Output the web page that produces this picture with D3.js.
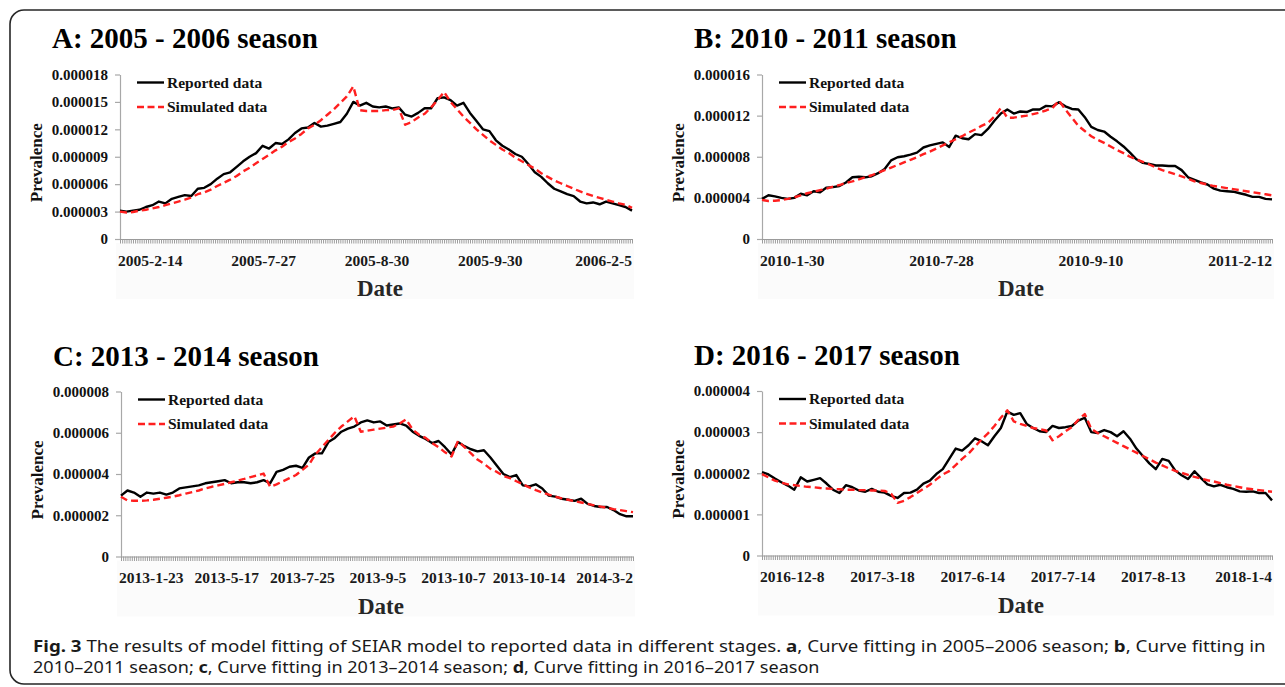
<!DOCTYPE html>
<html>
<head>
<meta charset="utf-8">
<script src="https://cdn.jsdelivr.net/npm/d3@7"></script>
<style>
  body { margin: 0; background: #fff; }
  svg { display: block; }
</style>
</head>
<body>
<svg id="fig" width="1285" height="687"></svg>
<script>
// Prevalence values are stored in millionths (x 1e-6)
const UNIT = 1e-6;

// A: 2005 - 2006 season
const reportedA = [3.1,3.0,3.1,3.2,3.5,3.7,4.1,3.9,4.4,4.6,
  4.8,4.7,5.5,5.6,6.0,6.6,7.1,7.3,7.9,8.5,
  9.0,9.4,10.2,9.9,10.5,10.4,10.9,11.6,12.1,12.2,
  12.7,12.3,12.4,12.6,12.8,13.7,15.0,14.6,14.9,14.5,
  14.4,14.5,14.3,14.4,13.6,13.4,13.8,14.3,14.3,15.4,
  15.5,15.2,14.6,14.9,13.8,12.9,12.0,11.8,10.8,10.2,
  9.8,9.3,9.0,8.2,7.3,6.8,6.1,5.5,5.2,4.9,
  4.7,4.1,3.9,4.0,3.8,4.1,3.9,3.7,3.5,3.1];
const simulatedA = [3.0,2.9,2.95,3.1,3.2,3.35,3.5,3.7,3.9,4.1,
  4.3,4.55,4.9,5.1,5.4,5.8,6.15,6.5,6.9,7.4,
  7.8,8.3,8.75,9.2,9.7,10.1,10.6,11.0,11.5,12.1,
  12.5,13.0,13.6,14.2,14.9,15.6,16.7,14.1,14.0,14.0,
  14.0,14.1,14.1,14.3,12.5,12.8,13.3,13.7,14.4,15.2,
  16.1,15.0,14.2,13.4,12.7,12.0,11.4,10.8,10.3,9.8,
  9.4,8.9,8.5,8.1,7.7,7.2,6.8,6.4,6.1,5.8,
  5.5,5.2,4.95,4.7,4.5,4.3,4.1,3.9,3.75,3.4];
const datesA = ["2005-2-14", "2005-7-27", "2005-8-30", "2005-9-30", "2006-2-5"];
const yTicksA = [0, 3, 6, 9, 12, 15, 18];

// B: 2010 - 2011 season
const reportedB = [3.9,4.25,4.15,4.0,3.9,4.0,4.4,4.25,4.65,4.55,
  5.0,5.05,5.15,5.5,6.0,6.05,6.0,6.1,6.4,6.8,
  7.65,7.95,8.05,8.2,8.4,8.9,9.1,9.25,9.4,8.95,
  10.05,9.8,9.7,10.2,10.1,10.7,11.5,12.2,12.6,12.2,
  12.4,12.35,12.6,12.6,12.95,12.9,13.3,12.9,12.65,12.6,
  11.85,10.9,10.6,10.45,9.95,9.5,9.0,8.4,7.75,7.4,
  7.3,7.15,7.15,7.1,7.1,6.7,6.0,5.75,5.5,5.3,
  4.9,4.7,4.65,4.6,4.45,4.3,4.1,4.1,3.9,3.85];
const simulatedB = [3.8,3.7,3.72,3.78,3.9,4.05,4.25,4.45,4.6,4.75,
  4.9,5.1,5.25,5.45,5.6,5.8,6.0,6.2,6.45,6.7,
  6.95,7.2,7.45,7.7,7.95,8.25,8.5,8.8,9.1,9.4,
  9.7,10.0,10.35,10.65,11.0,11.3,11.9,12.75,11.8,11.8,
  11.9,12.0,12.15,12.3,12.5,12.75,13.45,12.6,11.8,11.0,
  10.5,10.0,9.65,9.35,9.0,8.65,8.35,8.0,7.75,7.5,
  7.25,6.95,6.7,6.5,6.3,6.1,5.85,5.6,5.45,5.3,
  5.15,5.05,4.95,4.85,4.75,4.65,4.55,4.45,4.35,4.25];
const datesB = ["2010-1-30", "2010-7-28", "2010-9-10", "2011-2-12"];
const yTicksB = [0, 4, 8, 12, 16];

// C: 2013 - 2014 season
const reportedC = [2.95,3.2,3.1,2.9,3.1,3.05,3.1,3.0,3.1,3.3,
  3.35,3.4,3.45,3.55,3.6,3.65,3.7,3.55,3.6,3.6,
  3.55,3.6,3.7,3.55,4.1,4.2,4.35,4.4,4.3,4.8,
  5.0,5.0,5.55,5.75,6.05,6.2,6.3,6.5,6.6,6.5,
  6.55,6.35,6.4,6.45,6.35,6.05,5.85,5.7,5.5,5.6,
  5.3,4.95,5.55,5.35,5.2,5.1,5.15,4.8,4.4,4.0,
  3.85,3.95,3.45,3.4,3.5,3.3,2.95,2.9,2.8,2.75,
  2.7,2.8,2.55,2.45,2.4,2.4,2.25,2.05,1.95,1.95];
const simulatedC = [2.9,2.72,2.7,2.7,2.72,2.75,2.8,2.85,2.9,2.97,
  3.05,3.12,3.2,3.3,3.38,3.45,3.52,3.6,3.68,3.76,
  3.85,3.93,4.02,3.38,3.5,3.65,3.8,3.95,4.2,4.45,
  4.95,5.3,5.65,6.0,6.3,6.55,6.8,6.05,6.1,6.15,
  6.2,6.25,6.3,6.45,6.65,6.15,5.9,5.75,5.5,5.3,
  5.05,4.85,5.6,5.3,5.0,4.7,4.5,4.25,4.1,3.9,
  3.8,3.65,3.5,3.35,3.22,3.1,3.0,2.9,2.82,2.75,
  2.68,2.62,2.55,2.48,2.42,2.36,2.3,2.25,2.2,2.15];
const datesC = ["2013-1-23", "2013-5-17", "2013-7-25", "2013-9-5", "2013-10-7", "2013-10-14", "2014-3-2"];
const yTicksC = [0, 2, 4, 6, 8];

// D: 2016 - 2017 season
const reportedD = [2.03,1.97,1.87,1.78,1.7,1.6,1.9,1.8,1.84,1.88,
  1.75,1.6,1.52,1.71,1.66,1.58,1.55,1.62,1.55,1.53,
  1.45,1.4,1.52,1.53,1.6,1.75,1.82,1.98,2.1,2.35,
  2.6,2.55,2.68,2.85,2.78,2.68,2.9,3.1,3.5,3.42,
  3.46,3.2,3.1,3.02,3.0,3.15,3.1,3.12,3.15,3.28,
  3.35,3.0,2.98,3.05,3.0,2.9,3.02,2.84,2.6,2.42,
  2.24,2.1,2.35,2.3,2.07,1.95,1.86,2.05,1.88,1.73,
  1.68,1.72,1.66,1.62,1.56,1.55,1.56,1.52,1.52,1.34];
const simulatedD = [1.98,1.9,1.82,1.77,1.73,1.71,1.69,1.67,1.66,1.64,
  1.63,1.62,1.61,1.6,1.6,1.59,1.59,1.58,1.58,1.57,
  1.5,1.28,1.33,1.42,1.52,1.62,1.72,1.85,1.97,2.05,
  2.2,2.35,2.48,2.65,2.82,2.97,3.15,3.35,3.53,3.26,
  3.2,3.15,3.1,3.07,3.04,2.8,2.9,3.02,3.12,3.3,
  3.44,3.08,2.98,2.9,2.82,2.74,2.66,2.58,2.5,2.42,
  2.34,2.26,2.19,2.12,2.06,2.01,1.96,1.91,1.87,1.83,
  1.8,1.76,1.72,1.69,1.66,1.63,1.61,1.59,1.57,1.55];
const datesD = ["2016-12-8", "2017-3-18", "2017-6-14", "2017-7-14", "2017-8-13", "2018-1-4"];
const yTicksD = [0, 1, 2, 3, 4];

const titles = ["A: 2005 - 2006 season", "B: 2010 - 2011 season", "C: 2013 - 2014 season", "D: 2016 - 2017 season"];
const legendLabels = ["Reported data", "Simulated data"];
const axisTitleX = "Date";
const axisTitleY = "Prevalence";

const panels = [
  { title: titles[0], reported: reportedA, simulated: simulatedA, dates: datesA, yTicks: yTicksA,
    left: 120, right: 632, top: 74.5, bottom: 239, titleY: 47.5 },
  { title: titles[1], reported: reportedB, simulated: simulatedB, dates: datesB, yTicks: yTicksB,
    left: 762, right: 1272, top: 74.5, bottom: 239, titleY: 48 },
  { title: titles[2], reported: reportedC, simulated: simulatedC, dates: datesC, yTicks: yTicksC,
    left: 121, right: 633, top: 391.5, bottom: 556.5, titleY: 366 },
  { title: titles[3], reported: reportedD, simulated: simulatedD, dates: datesD, yTicks: yTicksD,
    left: 762, right: 1272, top: 391, bottom: 555.5, titleY: 365 }
];

const SERIF = "'Liberation Serif', 'Times New Roman', Times, serif";
const RED = "#ff1f1f";
const svg = d3.select("#fig");

// outer frame with rounded corners (right edge runs off the page)
svg.append("rect")
  .attr("x", 10).attr("y", 10)
  .attr("width", 1300).attr("height", 674)
  .attr("rx", 14).attr("ry", 14)
  .attr("fill", "none").attr("stroke", "#262626").attr("stroke-width", 1.6);

const fmtTick = v => v === 0 ? "0" : (v * UNIT).toFixed(6);

panels.forEach(p => {
  const g = svg.append("g");
  const n = p.reported.length;
  const x = d3.scaleLinear().domain([0, n - 1]).range([p.left, p.right]);
  const y = d3.scaleLinear().domain([0, d3.max(p.yTicks)]).range([p.bottom, p.top]);

  // faint backdrop behind the date labels
  g.append("rect")
    .attr("x", p.left - 4).attr("y", p.bottom + 4)
    .attr("width", p.right - p.left + 6).attr("height", 56)
    .attr("fill", "#fbfbfb");

  // title
  g.append("text")
    .attr("x", p.left - 68).attr("y", p.titleY)
    .attr("font-family", SERIF).attr("font-weight", "bold").attr("font-size", 29)
    .attr("fill", "#000")
    .text(p.title);

  // y axis
  const yAxis = d3.axisLeft(y).tickValues(p.yTicks).tickSize(5).tickSizeOuter(0)
    .tickPadding(7).tickFormat(fmtTick);
  const ya = g.append("g").attr("transform", `translate(${p.left},0)`).call(yAxis);
  ya.attr("font-family", SERIF).attr("font-weight", "bold").attr("font-size", 15).attr("color", "#111");
  ya.select(".domain").attr("stroke", "#a8a8a8").attr("stroke-width", 1.2);
  ya.selectAll(".tick line").attr("stroke", "#a8a8a8").attr("stroke-width", 1.2);

  // x axis: dense gray category ticks
  const xAxis = d3.axisBottom(x).tickValues(d3.range(0, n - 1 + 1e-9, 1 / 3))
    .tickSize(4.5).tickSizeOuter(0).tickFormat("");
  const xa = g.append("g").attr("transform", `translate(0,${p.bottom})`).call(xAxis);
  xa.select(".domain").attr("stroke", "#9a9a9a").attr("stroke-width", 1.2);
  xa.selectAll(".tick line").attr("stroke", "#9c9c9c").attr("stroke-width", 1);

  // date labels: first flush with the axis start, last flush with the axis end
  const labels = g.append("g")
    .attr("font-family", SERIF).attr("font-weight", "bold").attr("font-size", 15.5)
    .attr("fill", "#1a1a1a").attr("text-anchor", "middle");
  const lt = labels.selectAll("text").data(p.dates).join("text")
    .attr("y", p.bottom + 26.5).text(d => d);
  const w0 = lt.nodes()[0].getComputedTextLength();
  const wl = lt.nodes()[p.dates.length - 1].getComputedTextLength();
  const xLab = d3.scalePoint().domain(p.dates).range([p.left - 2 + w0 / 2, p.right - wl / 2]);
  lt.attr("x", d => xLab(d));

  // axis titles
  g.append("text")
    .attr("x", (p.left + p.right) / 2 + 4).attr("y", p.bottom + 57)
    .attr("text-anchor", "middle")
    .attr("font-family", SERIF).attr("font-weight", "bold").attr("font-size", 23)
    .attr("fill", "#262626")
    .text(axisTitleX);
  g.append("text")
    .attr("transform", `translate(${p.left - 78},${(p.top + p.bottom) / 2 + 6}) rotate(-90)`)
    .attr("text-anchor", "middle")
    .attr("font-family", SERIF).attr("font-weight", "bold").attr("font-size", 17)
    .attr("fill", "#111")
    .text(axisTitleY);

  // series
  const line = d3.line().x((d, i) => x(i)).y(d => y(d));
  g.append("path").datum(p.reported)
    .attr("d", line).attr("fill", "none")
    .attr("stroke", "#000").attr("stroke-width", 2.4).attr("stroke-linejoin", "round");
  g.append("path").datum(p.simulated)
    .attr("d", line).attr("fill", "none")
    .attr("stroke", RED).attr("stroke-width", 2.4)
    .attr("stroke-dasharray", "7,4").attr("stroke-linejoin", "round");

  // legend
  const lg = g.append("g");
  const rows = [
    { label: legendLabels[0], color: "#000", dash: null },
    { label: legendLabels[1], color: RED, dash: "7,3.5" }
  ];
  rows.forEach((r, k) => {
    const ly = p.top + 8 + k * 24.5;
    lg.append("line")
      .attr("x1", p.left + 17).attr("x2", p.left + 44)
      .attr("y1", ly).attr("y2", ly)
      .attr("stroke", r.color).attr("stroke-width", 2.4)
      .attr("stroke-dasharray", r.dash);
    lg.append("text")
      .attr("x", p.left + 47).attr("y", ly + 5)
      .attr("font-family", SERIF).attr("font-weight", "bold").attr("font-size", 15.5)
      .attr("fill", "#111")
      .text(r.label);
  });
});

// figure caption
const SANS = "'Noto Sans', 'Open Sans', Arial, sans-serif";
const captionLines = [
  [["Fig. 3", true], [" The results of model fitting of SEIAR model to reported data in different stages. ", false],
   ["a", true], [", Curve fitting in 2005\u20132006 season; ", false], ["b", true], [", Curve fitting in", false]],
  [["2010\u20132011 season; ", false], ["c", true], [", Curve fitting in 2013\u20132014 season; ", false],
   ["d", true], [", Curve fitting in 2016\u20132017 season", false]]
];
const capX = 33;
const capEnds = [1266, 820];
captionLines.forEach((parts, li) => {
  const t = svg.append("text")
    .attr("x", 0).attr("y", 0)
    .attr("font-family", SANS).attr("font-size", 15.5).attr("fill", "#1a1a1a")
    .attr("xml:space", "preserve");
  parts.forEach(([s, b]) => {
    t.append("tspan").attr("font-weight", b ? "bold" : "normal").text(s);
  });
  const sx = (capEnds[li] - capX) / t.node().getComputedTextLength();
  t.attr("transform", `translate(${capX},${652 + li * 21}) scale(${sx},1)`);
});
</script>
</body>
</html>
